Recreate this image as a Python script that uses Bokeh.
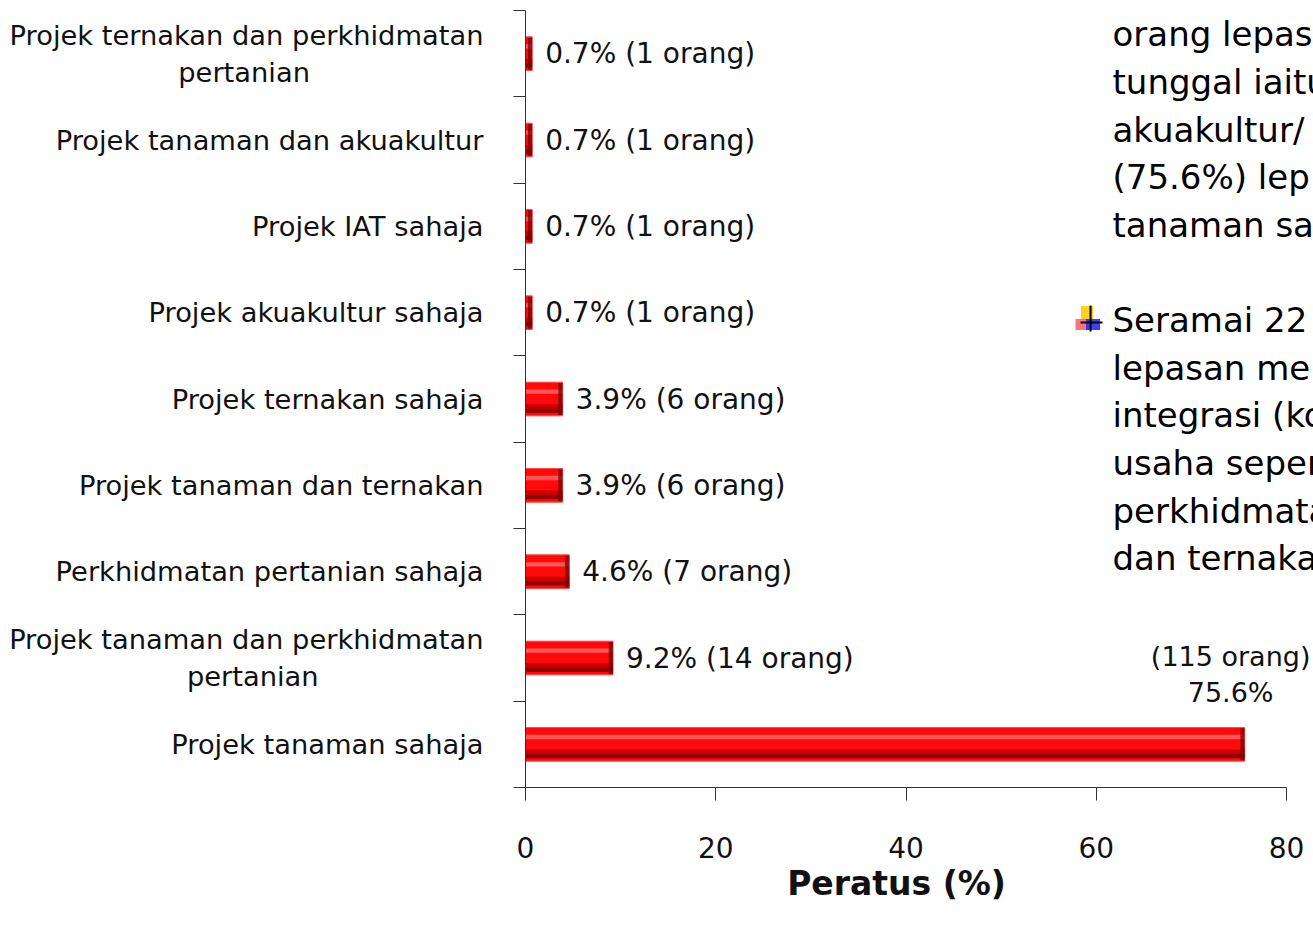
import numpy as np
from bokeh.plotting import figure
from bokeh.models import Range1d, FixedTicker, Label, ColumnDataSource
from bokeh.core.properties import value
from bokeh.embed import file_html
from bokeh.resources import INLINE

# ---------------- data ----------------
NBSP = "\u00a0"
categories = [
    "Projek tanaman sahaja",
    "Projek tanaman dan perkhidmatan\npertanian",
    "Perkhidmatan pertanian sahaja",
    "Projek tanaman dan ternakan",
    "Projek ternakan sahaja",
    "Projek akuakultur sahaja",
    "Projek IAT sahaja",
    "Projek tanaman dan akuakultur",
    "Projek ternakan dan perkhidmatan\npertanian",
]
percent = [75.6, 9.2, 4.6, 3.9, 3.9, 0.7, 0.7, 0.7, 0.7]
persons = [115, 14, 7, 6, 6, 1, 1, 1, 1]
x_ticks = [0, 20, 40, 60, 80]
x_label = "Peratus (%)"
note_para1 = ["orang lepas", "tunggal iaitu", "akuakultur/", "(75.6%) lep", "tanaman sa"]
note_para2 = ["Seramai 22", "lepasan me", "integrasi (ko", "usaha seper", "perkhidmata", "dan ternaka"]

FONT = "DejaVu Sans"
AXIS_COLOR = "#333333"
TXT = "#111111"

W, Hc = 1313, 930
LEFT, TOP, BOTTOM = 525, 10, 143
AXIS_MAX = 80
X_END = AXIS_MAX * (W - LEFT) / 761.0   # frame runs to the right edge; axis stops at 80

idx = np.arange(len(categories), dtype=float)
vals = np.array(percent, dtype=float)


def center_second_line(label):
    # right-aligned axis labels: pad the 2nd line so it sits centred under the 1st
    if "\n" not in label:
        return label
    first, second = label.split("\n")
    pad = round((len(first) - len(second)) * 0.86)
    return first + "\n" + second + NBSP * pad


p = figure(width=W, height=Hc, output_backend="svg", toolbar_location=None,
           x_range=Range1d(0, X_END), y_range=Range1d(-0.5, len(categories) - 0.5),
           min_border_left=LEFT, min_border_right=0, min_border_top=TOP,
           min_border_bottom=BOTTOM)
p.grid.visible = False
p.outline_line_color = None
p.background_fill_color = "white"
p.border_fill_color = "white"

# ---------------- bars (layered for a bevel look) ----------------
H = 0.39
src = ColumnDataSource(dict(y=idx, right=vals))
p.hbar(y="y", left=0, right="right", height=H, source=src,
       fill_color="#ff0a0a", line_color="#ff4a4a", line_width=1)
p.hbar(y=idx + 0.085, left=0, right=vals, height=0.05,
       fill_color="#ff6a6a", line_color=None, fill_alpha=0.8)
p.hbar(y=idx - 0.085, left=0, right=vals, height=0.05,
       fill_color="#cc0000", line_color=None)
p.hbar(y=idx - 0.135, left=0, right=vals, height=0.05,
       fill_color="#8e0000", line_color=None)
p.hbar(y=idx, left=np.maximum(vals - 0.45, 0), right=vals, height=H - 0.02,
       fill_color="#7a0000", line_color=None, fill_alpha=0.75)

# ---------------- value labels ----------------
big = int(np.argmax(vals))
others = [i for i in range(len(vals)) if i != big]
lab_src = ColumnDataSource(dict(
    x=vals[others], y=idx[others],
    t=[f"{percent[i]}% ({persons[i]} orang)" for i in others]))
p.text(x="x", y="y", text="t", source=lab_src, x_offset=13,
       text_font=value(FONT), text_font_size="28px", text_color=TXT,
       text_align="left", text_baseline="middle")
p.text(x=[vals[big]], y=[idx[big] + 0.81],
       text=[f"({persons[big]} orang)\n{percent[big]}%"], x_offset=-14,
       text_font=value(FONT), text_font_size="27px", text_color=TXT,
       text_align="center", text_baseline="middle", text_line_height=1.18)

# ---------------- axes ----------------
xa = p.xaxis[0]
xa.bounds = (0, AXIS_MAX)
xa.ticker = FixedTicker(ticks=x_ticks)
xa.major_tick_out = 13
xa.major_tick_in = 0
xa.minor_tick_out = 0
xa.minor_tick_in = 0
xa.axis_line_color = AXIS_COLOR
xa.major_tick_line_color = AXIS_COLOR
xa.major_label_text_font = FONT
xa.major_label_text_font_size = "28px"
xa.major_label_text_color = TXT
xa.major_label_standoff = 36
# the frame runs past 80, so pad the title to keep it centred on the 0-80 axis
xa.axis_label = x_label + NBSP * 4
xa.axis_label_text_font = FONT
xa.axis_label_text_font_size = "33px"
xa.axis_label_text_font_style = "bold"
xa.axis_label_text_color = TXT
xa.axis_label_standoff = 3

ya = p.yaxis[0]
ya.ticker = FixedTicker(ticks=list(idx),
                        minor_ticks=list(idx - 0.5) + [len(categories) - 0.5])
ya.major_label_overrides = {int(i): center_second_line(c) for i, c in zip(idx, categories)}
ya.major_tick_out = 0
ya.major_tick_in = 0
ya.minor_tick_out = 12
ya.minor_tick_in = 0
ya.axis_line_color = AXIS_COLOR
ya.minor_tick_line_color = AXIS_COLOR
ya.major_label_text_font = FONT
ya.major_label_text_font_size = "27.3px"
ya.major_label_text_color = TXT
ya.major_label_text_line_height = 1.2
ya.major_label_standoff = 30

# ---------------- slide notes on the right ----------------
for lines, ymid in ((note_para1, 7.12), (note_para2, 3.535)):
    p.add_layout(Label(x=61.71, y=ymid, text="\n".join(lines),
                       text_font=FONT, text_font_size="34px", text_color="#000000",
                       text_align="left", text_baseline="middle",
                       text_line_height=1.19))

# bullet icon
def sq(x, y, w, h, color, alpha=1.0):
    p.rect(x=[x], y=[y], width=w, height=h, width_units="screen",
           height_units="screen", fill_color=color, line_color=None, fill_alpha=alpha)

sq(59.03, 4.996, 12, 14, "#ffd21f")
sq(58.50, 4.863, 13, 11, "#ff5a6a", 0.85)
sq(59.66, 4.863, 14, 11, "#2a2aff", 0.9)
sq(59.40, 4.932, 2, 26, "#000000")
sq(59.50, 4.886, 22, 2, "#000000")

open("out.html", "w").write(file_html(p, INLINE))
